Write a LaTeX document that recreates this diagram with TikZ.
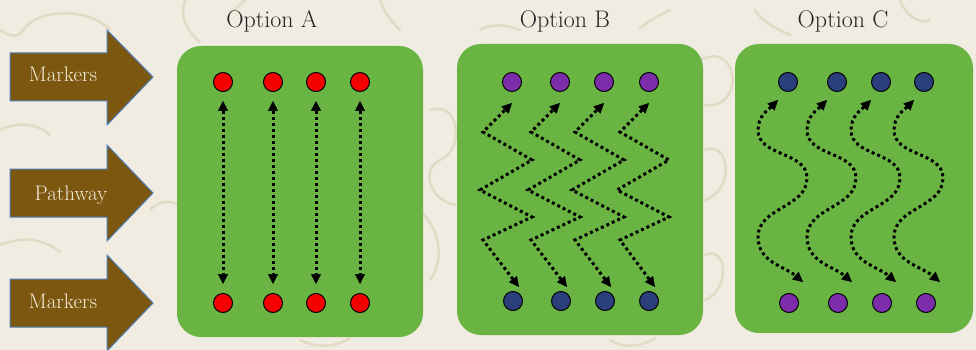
\documentclass[tikz,border=0pt]{standalone}
\usetikzlibrary{arrows.meta,calc}
\definecolor{bg}{HTML}{F0ECE1}
\definecolor{swirl}{HTML}{E1DBC6}
\definecolor{arrbrown}{HTML}{7B5710}
\definecolor{arrline}{HTML}{4F7DB8}
\definecolor{boxgreen}{HTML}{6AB444}
\definecolor{dotred}{HTML}{F40000}
\definecolor{dotpurple}{HTML}{7E2DAA}
\definecolor{dotblue}{HTML}{2A3F7C}
\definecolor{txtcream}{HTML}{F5EEDB}
\begin{document}
\begin{tikzpicture}[x=1pt,y=1pt,
  bigarrow/.style={fill=arrbrown,draw=arrline,line width=1pt,line join=miter},
  arrtext/.style={text=txtcream,font=\fontsize{21}{21}\selectfont,anchor=base,inner sep=0pt},
  optlabel/.style={font=\fontsize{24}{24}\selectfont,anchor=base,text=black!85,inner sep=0pt},
  panel/.style={fill=boxgreen,rounded corners=24pt,inner sep=0pt},
  dotnode/.style={circle,draw=black,line width=1pt,minimum size=19pt,inner sep=0pt},
  swirlline/.style={draw=swirl,line width=2.5pt,line cap=round},
  dotline/.style={line width=3pt,dash pattern=on 3pt off 3pt,
    >={Triangle[length=10pt,width=10pt,line width=0.5pt]},<->}]
\useasboundingbox (0,0) rectangle (976,-350);
\fill[bg] (0,0) rectangle (976,-350);

% faint background swirls
\draw[swirlline] (0,-30) .. controls (15,-40) and (20,-35) .. (25,-28) .. controls (40,-8) and (90,-8) .. (110,-30);
\draw[swirlline] (185,0) .. controls (180,-15) and (185,-30) .. (200,-42);
\draw[swirlline] (245,0) .. controls (240,-5) and (235,-10) .. (230,-12);
\draw[swirlline] (380,0) .. controls (385,-15) and (395,-25) .. (400,-30);
\draw[swirlline] (430,-110) .. controls (460,-100) and (465,-150) .. (440,-160) .. controls (420,-170) and (430,-200) .. (455,-205);
\draw[swirlline] (420,-210) .. controls (440,-230) and (445,-260) .. (430,-280);
\draw[swirlline] (480,-30) .. controls (495,-22) and (510,-26) .. (520,-30);
\draw[swirlline] (640,-28) .. controls (650,-20) and (660,-15) .. (670,-10);
\draw[swirlline] (700,-60) .. controls (740,-40) and (745,-110) .. (705,-105);
\draw[swirlline] (705,-150) .. controls (730,-140) and (735,-190) .. (705,-200);
\draw[swirlline] (705,-255) .. controls (728,-245) and (730,-290) .. (705,-300);
\draw[swirlline] (755,-10) .. controls (765,-25) and (780,-30) .. (790,-35);
\draw[swirlline] (900,0) .. controls (905,-15) and (920,-25) .. (930,-20);
\draw[swirlline] (150,-210) .. controls (160,-200) and (170,-200) .. (178,-205);
\draw[swirlline] (0,-130) .. controls (20,-120) and (40,-125) .. (50,-135);
\draw[swirlline] (0,-245) .. controls (25,-235) and (45,-240) .. (60,-252);
\draw[swirlline] (300,-340) .. controls (320,-350) and (340,-345) .. (350,-338);
\draw[swirlline] (610,-340) .. controls (625,-350) and (645,-345) .. (655,-338);

% left arrows
\draw[bigarrow] (10,-53) -- (107,-53) -- (107,-30) -- (153,-77) -- (107,-125) -- (107,-101) -- (10,-101) -- cycle;
\draw[bigarrow] (10,-169) -- (107,-169) -- (107,-145) -- (153,-193) -- (107,-241) -- (107,-217) -- (10,-217) -- cycle;
\draw[bigarrow] (10,-279) -- (107,-279) -- (107,-255) -- (153,-303) -- (107,-351) -- (107,-327) -- (10,-327) -- cycle;
\node[arrtext] (m1) at (63,-82) {Markers};
\node[arrtext] (pw) at (71,-200) {Pathway};
\node[arrtext] (m2) at (63,-308) {Markers};

% option labels
\node[optlabel] (lA) at (272,-28) {Option A};
\node[optlabel] (lB) at (565,-28) {Option B};
\node[optlabel] (lC) at (843,-28) {Option C};

% panels
\node[panel,minimum width=246pt,minimum height=291pt] (pA) at (300,-191.5) {};
\node[panel,minimum width=246pt,minimum height=291pt] (pB) at (580,-189.5) {};
\node[panel,minimum width=238pt,minimum height=289pt] (pC) at (854,-188.5) {};

% Option A
\foreach \t [count=\i] in {223,273,316,360}{
  \node[dotnode,fill=dotred] (ta\i) at (\t,-82) {};
  \node[dotnode,fill=dotred] (ba\i) at (\t,-303) {};
  \draw[dotline,shorten <=9pt,shorten >=9pt] (ta\i) -- (ba\i);
}

% Option B
\foreach \t/\b [count=\i] in {512/513,560/561,604/605,649/649}{
  \node[dotnode,fill=dotpurple] (tb\i) at (\t,-82) {};
  \node[dotnode,fill=dotblue] (bb\i) at (\b,-301) {};
  \draw[dotline] ($(bb\i)+(6,14)$) -- (\t-29,-240) -- (\t+20,-217) -- (\t-32,-190)
     -- (\t+20,-160) -- (\t-29,-132) -- ($(tb\i)+(0,-21)$);
}

% Option C
\foreach \t/\b [count=\i] in {788/789,837/838,881/882,924/926}{
  \node[dotnode,fill=dotblue] (tc\i) at (\t,-82) {};
  \node[dotnode,fill=dotpurple] (bc\i) at (\b,-303) {};
  \draw[dotline] ($(tc\i)+(-10,-18)$) to[out=225,in=90] (\t-30,-130)
     to[out=-90,in=90] (\t+19,-178) to[out=-90,in=90] (\t-30,-237)
     to[out=-90,in=140] ($(bc\i)+(14,21)$);
}
\end{tikzpicture}
\end{document}
